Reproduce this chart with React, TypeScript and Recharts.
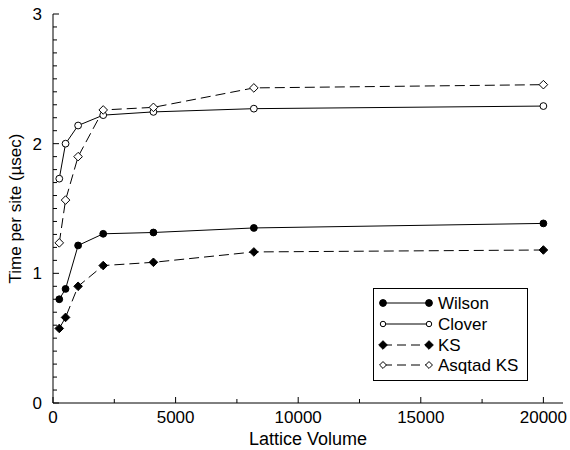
import React from "react";
import { LineChart, Line, XAxis, YAxis, Legend } from "recharts";

const volumes = [256, 512, 1024, 2048, 4096, 8192, 20000];
const wilson = [0.8, 0.88, 1.215, 1.305, 1.315, 1.35, 1.385];
const clover = [1.73, 2.0, 2.14, 2.22, 2.245, 2.27, 2.29];
const ks = [0.575, 0.66, 0.9, 1.06, 1.085, 1.165, 1.18];
const asqtad = [1.235, 1.565, 1.9, 2.26, 2.28, 2.43, 2.455];

const xTicks = [0, 2500, 5000, 7500, 10000, 12500, 15000, 17500, 20000];
const yTicks = [
  0, 0.1, 0.2, 0.3, 0.4, 0.5, 0.6, 0.7, 0.8, 0.9, 1, 1.1, 1.2, 1.3, 1.4, 1.5,
  1.6, 1.7, 1.8, 1.9, 2, 2.1, 2.2, 2.3, 2.4, 2.5, 2.6, 2.7, 2.8, 2.9, 3,
];

const series = [
  { key: "wilson", name: "Wilson", values: wilson, marker: "circle", filled: true, dashed: false },
  { key: "clover", name: "Clover", values: clover, marker: "circle", filled: false, dashed: false },
  { key: "ks", name: "KS", values: ks, marker: "diamond", filled: true, dashed: true },
  { key: "asqtad", name: "Asqtad KS", values: asqtad, marker: "diamond", filled: false, dashed: true },
];

const data = volumes.map((v, i) => {
  const row: Record<string, number> = { volume: v };
  series.forEach((s) => (row[s.key] = s.values[i]));
  return row;
});

const FONT = "'Liberation Sans', Arial, Helvetica, sans-serif";
const DASH = "10 5";

function Marker({ cx, cy, marker, filled, size = 1 }: any) {
  const fill = filled ? "#000" : "#fff";
  if (marker === "circle") {
    return <circle cx={cx} cy={cy} r={3.4 * size} fill={fill} stroke="#000" strokeWidth={1} />;
  }
  const h = 4.3 * size;
  return (
    <polygon
      points={`${cx},${cy - h} ${cx + h},${cy} ${cx},${cy + h} ${cx - h},${cy}`}
      fill={fill}
      stroke="#000"
      strokeWidth={1}
    />
  );
}

const isMajorX = (v: number) => v % 5000 === 0;
const isMajorY = (v: number) => Math.abs(v - Math.round(v)) < 1e-9;

function BottomTick({ x, y, payload }: any) {
  const major = isMajorX(payload.value);
  return (
    <g>
      <line x1={x} x2={x} y1={y} y2={y - (major ? 6 : 4)} stroke="#000" />
      {major && (
        <text x={x} y={y + 20} textAnchor="middle" fontSize={17} fontFamily={FONT} fill="#000">
          {payload.value}
        </text>
      )}
    </g>
  );
}

function TopTick({ x, y, payload }: any) {
  const major = isMajorX(payload.value);
  return <line x1={x} x2={x} y1={y} y2={y + (major ? 6 : 4)} stroke="#000" />;
}

function LeftTick({ x, y, payload }: any) {
  const major = isMajorY(payload.value);
  return (
    <g>
      <line x1={x} x2={x + (major ? 6 : 4)} y1={y} y2={y} stroke="#000" />
      {major && (
        <text x={x - 11} y={y} dy={6} textAnchor="end" fontSize={17} fontFamily={FONT} fill="#000">
          {Math.round(payload.value)}
        </text>
      )}
    </g>
  );
}

function RightTick({ x, y, payload }: any) {
  const major = isMajorY(payload.value);
  return <line x1={x} x2={x - (major ? 6 : 4)} y1={y} y2={y} stroke="#000" />;
}

function LegendBox() {
  const rowY = [15, 36, 57, 77];
  return (
    <svg width={155} height={93} style={{ display: "block" }}>
      <rect x={0.5} y={0.5} width={154} height={92} fill="#fff" stroke="#000" />
      {series.map((s, i) => (
        <g key={s.key}>
          <line
            x1={10}
            x2={56}
            y1={rowY[i]}
            y2={rowY[i]}
            stroke="#000"
            strokeDasharray={s.dashed ? "9 5" : undefined}
          />
          <Marker cx={10} cy={rowY[i]} marker={s.marker} filled={s.filled} size={s.filled ? 1 : 0.8} />
          <Marker cx={56} cy={rowY[i]} marker={s.marker} filled={s.filled} size={s.filled ? 1 : 0.8} />
          <text x={65} y={rowY[i] + 6} fontSize={17} fontFamily={FONT} fill="#000">
            {s.name}
          </text>
        </g>
      ))}
    </svg>
  );
}

export default function App() {
  return (
    <div style={{ position: "absolute", left: 0, top: 0, width: 570, height: 450 }}>
      <LineChart width={570} height={450} data={data} margin={{ top: 14, right: 7, bottom: 0, left: 0 }}>
        <XAxis
          dataKey="volume"
          type="number"
          domain={[0, 20800]}
          ticks={xTicks}
          interval={0}
          tick={<BottomTick />}
          tickLine={false}
          tickSize={0}
          tickMargin={0}
          height={47}
          axisLine={{ stroke: "#000" }}
          label={{ value: "Lattice Volume", position: "insideBottom", offset: 5, fontSize: 18, fontFamily: FONT, fill: "#000" }}
        />
        <XAxis
          xAxisId="top"
          orientation="top"
          type="number"
          domain={[0, 20800]}
          ticks={xTicks}
          interval={0}
          tick={<TopTick />}
          tickLine={false}
          tickSize={0}
          tickMargin={0}
          height={0}
          axisLine={{ stroke: "#000" }}
        />
        <YAxis
          type="number"
          domain={[0, 3]}
          ticks={yTicks}
          interval={0}
          tick={<LeftTick />}
          tickLine={false}
          tickSize={0}
          tickMargin={0}
          width={53}
          axisLine={{ stroke: "#000" }}
          label={{ value: "Time per site (\u00b5sec)", angle: -90, position: "center", dx: -11.5, fontSize: 17, fontFamily: FONT, fill: "#000" }}
        />
        <YAxis
          yAxisId="right"
          orientation="right"
          type="number"
          domain={[0, 3]}
          ticks={yTicks}
          interval={0}
          tick={<RightTick />}
          tickLine={false}
          tickSize={0}
          tickMargin={0}
          width={0}
          axisLine={{ stroke: "#000" }}
        />
        {series.map((s) => (
          <Line
            key={s.key}
            dataKey={s.key}
            name={s.name}
            stroke="#000"
            strokeWidth={1}
            strokeDasharray={s.dashed ? DASH : undefined}
            isAnimationActive={false}
            dot={(p: any) => (
              <Marker key={`${s.key}-${p.index}`} cx={p.cx} cy={p.cy} marker={s.marker} filled={s.filled} />
            )}
            activeDot={false}
          />
        ))}
        <Legend
          layout="vertical"
          align="center"
          verticalAlign="middle"
          content={() => <LegendBox />}
          wrapperStyle={{ left: 373, top: 288, width: 155, height: 93 }}
        />
      </LineChart>
    </div>
  );
}
